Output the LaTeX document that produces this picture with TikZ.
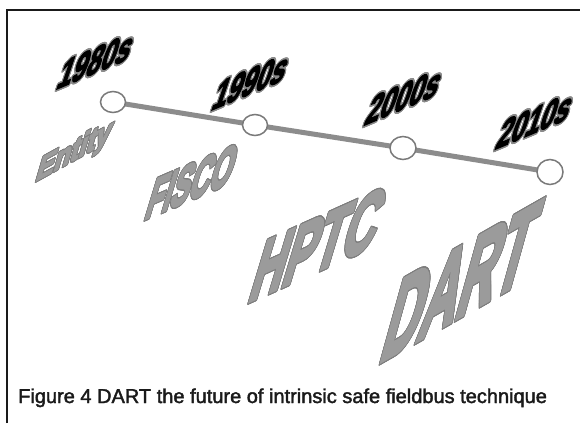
\documentclass[tikz,border=0pt]{standalone}
\usepackage{fontspec}
\setmainfont{Liberation Sans}
\newfontfamily\heavyfont{Liberation Sans Bold}[FakeBold=4]
\newfontfamily\capfont{Liberation Sans}[FakeBold=2]
\usepackage{contour}
\usetikzlibrary{shapes.geometric}
\definecolor{framecol}{HTML}{1A1A1A}
\definecolor{linecol}{HTML}{8C8C8C}
\definecolor{circcol}{HTML}{7A7A7A}
\definecolor{wordfill}{HTML}{9B9B9B}
\definecolor{wordline}{HTML}{7D7D7D}
\definecolor{yearline}{HTML}{8A8A8A}
\pgfdeclarelayer{background}
\pgfsetlayers{background,main}
\tikzset{
  yearlbl/.style={font=\heavyfont\fontsize{10}{12}\selectfont, text=black, inner sep=0pt,
    yslant=0.42, xslant=0.4, xscale=2.6, yscale=3.6, transform shape},
  wordlbl/.style={font=\heavyfont\fontsize{10}{12}\selectfont, text=wordfill, inner sep=0pt, transform shape},
  dot/.style={ellipse, draw=circcol, fill=white, line width=1.5pt, inner sep=0pt,
    minimum width=25pt, minimum height=21pt},
  timeline/.style={line width=5pt, color=linecol},
}
\begin{document}
\begin{tikzpicture}[x=1pt, y=-1pt]
\useasboundingbox (0,0) rectangle (580,423);
\begin{pgfonlayer}{background}
\fill[white] (0,0) rectangle (580,423);
\end{pgfonlayer}
\draw[line width=2pt, color=framecol] (7,423) -- (7,10) -- (580,10);

% circles
\node[dot] (c1) at (113,102) {};
\node[dot] (c2) at (255,125) {};
\node[dot, minimum width=26pt, minimum height=23pt] (c3) at (403,148) {};
\node[dot, minimum width=26pt, minimum height=25pt] (c4) at (550,172) {};
\begin{pgfonlayer}{background}
\draw[timeline] (c1.center) -- (c2.center);
\draw[timeline] (c2.center) -- (c3.center);
\draw[timeline] (c3.center) -- (c4.center);
\end{pgfonlayer}

% years
\node[shift={(96,61)}, yearlbl] (y1) at (0,0) {\contourlength{0.45pt}\contour{yearline}{1980s}};
\node[shift={(251,82)}, yearlbl] (y2) at (0,0) {\contourlength{0.45pt}\contour{yearline}{1990s}};
\node[shift={(404,97)}, yearlbl] (y3) at (0,0) {\contourlength{0.45pt}\contour{yearline}{2000s}};
\node[shift={(535,121)}, yearlbl] (y4) at (0,0) {\contourlength{0.45pt}\contour{yearline}{2010s}};

% technologies
\node[shift={(74,153)}, yslant=0.55, xslant=0.35, xscale=2.65, yscale=2.95, wordlbl] (w1) at (0,0)
  {\contourlength{0.3pt}\contour{wordline}{Entity}};
\node[shift={(192,182)}, yslant=0.43, xslant=0.35, xscale=2.8, yscale=5.1, wordlbl] (w2) at (0,0)
  {\contourlength{0.2pt}\contour{wordline}{FISCO}};
\node[shift={(318,245)}, yslant=0.45, xslant=0.35, xscale=4.6, yscale=7.6, wordlbl] (w3) at (0,0)
  {\contourlength{0.15pt}\contour{wordline}{HPTC}};
\node[shift={(461,282)}, yslant=0.57, xslant=0.33, xscale=5.2, yscale=10, wordlbl] (w4) at (0,0)
  {\contourlength{0.12pt}\contour{wordline}{DART}};

% caption
\node[anchor=base west, font=\capfont\fontsize{20}{24}\selectfont, text=framecol, inner sep=0pt] (cap) at (18,403)
  {Figure 4 DART the future of intrinsic safe fieldbus technique};
\end{tikzpicture}
\end{document}
